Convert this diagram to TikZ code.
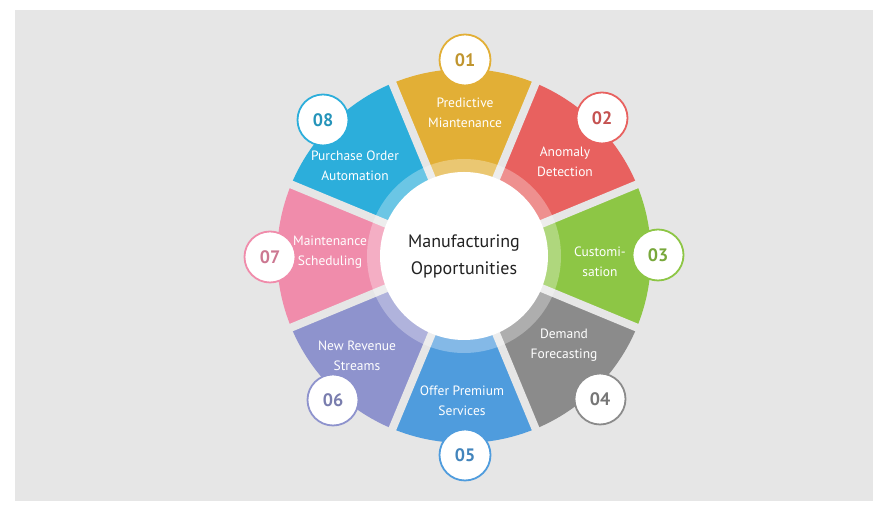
\documentclass[tikz,border=0pt]{standalone}
\usepackage{fontspec}
\setmainfont{PT Sans}
\definecolor{bgg}{HTML}{E6E6E6}
\definecolor{cA}{HTML}{E2AF36}
\definecolor{cB}{HTML}{E8615F}
\definecolor{cC}{HTML}{8DC645}
\definecolor{cD}{HTML}{8B8B8B}
\definecolor{cE}{HTML}{4F9CDD}
\definecolor{cF}{HTML}{8E93CD}
\definecolor{cG}{HTML}{F08CAB}
\definecolor{cH}{HTML}{2CAEDB}
\definecolor{hubtext}{HTML}{222222}
\begin{document}
\begin{tikzpicture}[x=1pt,y=1pt,
  lbl/.style={text=white, align=center, inner sep=0pt, font=\fontsize{13.5}{19.5}\selectfont},
  numc/.style={circle, fill=white, draw=#1, line width=1.8pt, minimum size=51pt, inner sep=0pt,
    font=\fontsize{18}{18}\selectfont\bfseries, text=#1!85!black},
  gapline/.style={bgg, line width=8pt}]
\useasboundingbox (0,0) rectangle (881,513);
\fill[white] (0,0) rectangle (881,513);
\fill[bgg] (15,12) rectangle (873,503);
\coordinate (C) at (464,257);
% sectors
\foreach \c [count=\i from 0] in {cA,cB,cC,cD,cE,cF,cG,cH}{
  \pgfmathsetmacro{\aS}{90-\i*45+22.5}
  \pgfmathsetmacro{\aE}{90-\i*45-22.5}
  \fill[\c] (C) -- +(\aS:187) arc[start angle=\aS, end angle=\aE, radius=187] -- cycle;
}
% gaps
\foreach \i in {0,...,7}{
  \draw[gapline] (C) -- +(67.5-\i*45:205);
}
% translucent ring and hub
\fill[white, opacity=0.3] (C) circle[radius=97];
\node[circle, fill=white, minimum size=168pt, inner sep=0pt, align=center,
  font=\fontsize{18}{27}\selectfont, text=hubtext] (hub) at (C) {Manufacturing\\Opportunities};
% labels
\node[lbl] (l1) at (465,400) {Predictive\\Miantenance};
\node[lbl] (l2) at (565,351) {Anomaly\\Detection};
\node[lbl] (l3) at (600,251) {Customi-\\sation};
\node[lbl] (l4) at (564,168) {Demand\\Forecasting};
\node[lbl] (l5) at (462,112) {Offer Premium\\Services};
\node[lbl] (l6) at (357,157) {New Revenue\\Streams};
\node[lbl] (l7) at (330,261) {Maintenance\\Scheduling};
\node[lbl] (l8) at (355,347) {Purchase Order\\Automation};
% number badges
\node[numc=cA] (n1) at (465,453) {01};
\node[numc=cB] (n2) at (602,395) {02};
\node[numc=cC] (n3) at (658,258) {03};
\node[numc=cD] (n4) at (600,114) {04};
\node[numc=cE] (n5) at (465,58) {05};
\node[numc=cF] (n6) at (333,113) {06};
\node[numc=cG] (n7) at (270,256) {07};
\node[numc=cH] (n8) at (323,393) {08};
\end{tikzpicture}
\end{document}
